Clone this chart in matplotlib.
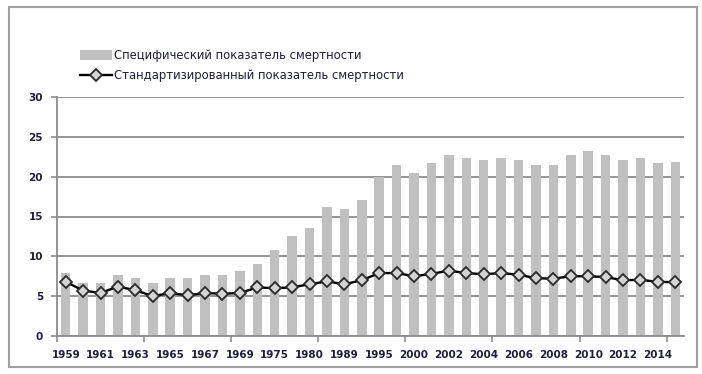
import numpy as np
import matplotlib.pyplot as plt
from matplotlib.patches import Rectangle

# --- Data ---
years = ['1959', '1960', '1961', '1962', '1963', '1964', '1965', '1966', '1967', '1968',
         '1969', '1970', '1975', '1978', '1980', '1985', '1989', '1990', '1995', '1999',
         '2000', '2001', '2002', '2003', '2004', '2005', '2006', '2007', '2008', '2009',
         '2010', '2011', '2012', '2013', '2014', '2015']
specific_rate = [7.9, 6.6, 6.6, 7.7, 7.3, 6.6, 7.3, 7.3, 7.7, 7.7,
                 8.1, 9.0, 10.75, 12.5, 13.6, 16.2, 16.0, 17.1, 19.9, 21.5,
                 20.5, 21.7, 22.75, 22.3, 22.1, 22.3, 22.1, 21.5, 21.5, 22.75,
                 23.2, 22.75, 22.1, 22.3, 21.7, 21.9]
standard_rate = [6.8, 5.7, 5.4, 6.2, 5.75, 5.0, 5.4, 5.1, 5.4, 5.3,
                 5.4, 6.1, 6.0, 6.1, 6.5, 6.85, 6.5, 7.0, 7.9, 7.9,
                 7.5, 7.8, 8.2, 7.9, 7.75, 7.9, 7.7, 7.25, 7.2, 7.5,
                 7.5, 7.4, 7.0, 7.05, 6.8, 6.75]
label_specific = 'Специфический показатель смертности'
label_standard = 'Стандартизированный показатель смертности'

# --- Style ---
BAR_COLOR = '#c0c0c0'
GRID_COLOR = '#8c8c8c'
TEXT_COLOR = '#1f1f3a'

W, H = 702, 374
fig = plt.figure(figsize=(W / 100, H / 100), dpi=100)
ax = fig.add_axes([57 / W, 1 - 336 / H, (684 - 57) / W, (336 - 97) / H])

x = np.arange(len(years))
bars = ax.bar(x, specific_rate, width=0.55, color=BAR_COLOR, zorder=2,
              label=label_specific)
line, = ax.plot(x, standard_rate, color='black', lw=1.7, marker='D', ms=6.5,
                mfc='#d4d4d4', mec='#2a2a2a', mew=1.3, zorder=3,
                label=label_standard)

# y axis
ax.set_ylim(0, 30)
ax.set_yticks(range(0, 31, 5))
ax.yaxis.grid(True, color=GRID_COLOR, lw=1.3, zorder=0)
ax.set_axisbelow(True)

# x axis: tick marks every 5 categories, labels every other category
ax.set_xlim(-0.5, len(years) - 0.5)
ax.set_xticks(np.arange(-0.5, len(years), 5))
ax.set_xticklabels([])
ax.set_xticks(x[::2], minor=True)
ax.set_xticklabels(years[::2], minor=True)
ax.tick_params(axis='x', which='major', length=4, color=GRID_COLOR, width=1.2)
ax.tick_params(axis='x', which='minor', length=0, pad=10)
ax.tick_params(axis='y', length=4, color=GRID_COLOR, width=1.2, pad=6)

for lab in ax.get_xticklabels(minor=True) + ax.get_yticklabels():
    lab.set_fontsize(7.5)
    lab.set_fontweight('bold')
    lab.set_color(TEXT_COLOR)

for side in ['top', 'right']:
    ax.spines[side].set_visible(False)
for side in ['left', 'bottom']:
    ax.spines[side].set_color(GRID_COLOR)
    ax.spines[side].set_linewidth(1.3)

# legend in the top-left of the chart area
leg = ax.legend(handles=[bars, line], loc='upper left',
                bbox_to_anchor=(80 / W, 1 - 49 / H), bbox_transform=fig.transFigure,
                frameon=False, fontsize=8.4, borderpad=0, borderaxespad=0,
                handlelength=2.7, handleheight=0.9, handletextpad=0.25,
                labelspacing=0.62)
for t in leg.get_texts():
    t.set_color(TEXT_COLOR)

# outer chart border
fig.patches.append(Rectangle((9 / W, 1 - 367 / H), (697 - 9) / W, (367 - 7) / H,
                             transform=fig.transFigure, fill=False,
                             edgecolor='#a0a0a0', lw=1.5))

fig.savefig('out.png', dpi=100)
